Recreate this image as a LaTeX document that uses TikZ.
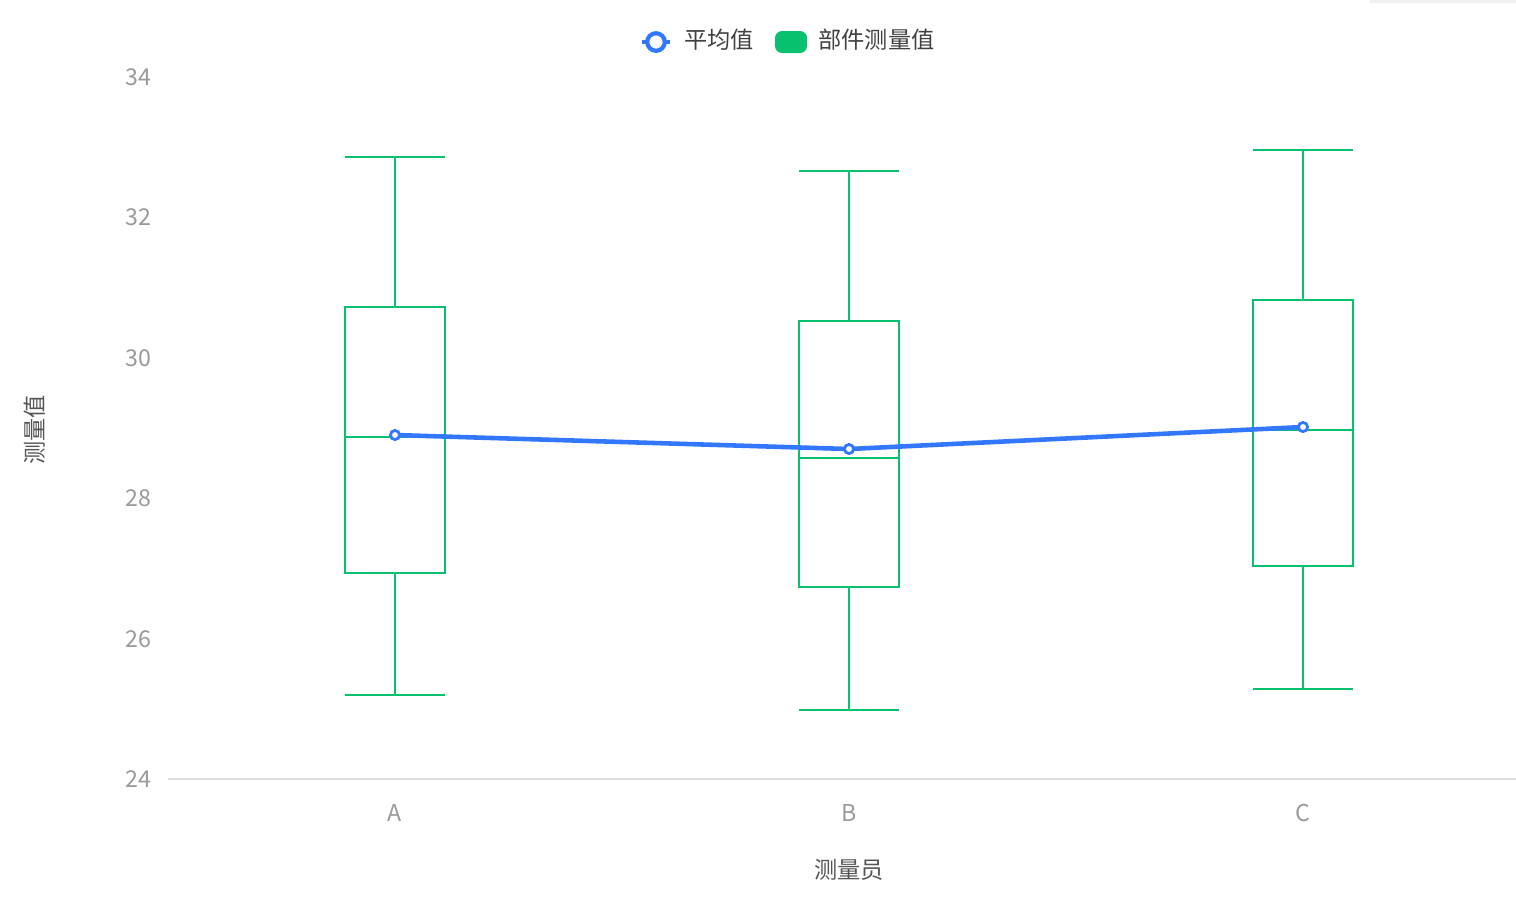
\documentclass[tikz,border=0pt]{standalone}
\usepackage{fontspec}
\setmainfont{Noto Sans CJK SC}
\usetikzlibrary{positioning}
\definecolor{boxgreen}{HTML}{07C16E}
\definecolor{meanblue}{HTML}{3377FF}
\definecolor{ticklabel}{HTML}{9A9A9A}
\definecolor{axisgray}{HTML}{DDDDDD}
\definecolor{titlegray}{HTML}{555555}
\begin{document}
\begin{tikzpicture}[
            x=0.01cm, y=-0.01cm,
            box/.style={draw=boxgreen, line width=0.5pt},
            tick/.style={text=ticklabel, font=\fontsize{6.6pt}{7pt}\selectfont},
            title/.style={text=titlegray, font=\fontsize{6.6pt}{7pt}\selectfont},
            mean/.style={circle, draw=meanblue, fill=white, line width=0.8pt, inner sep=0pt, minimum size=2.6pt}
        ]
        \useasboundingbox (0,0) rectangle (1516,899);
        \fill[black!6] (1370,0) rectangle (1516,3);
        % legend
        \coordinate (l1) at (642,42);
        \coordinate (l2) at (670,42);
        \draw[meanblue, line width=1.2pt] (l1) -- (l2);
        \node[mean, minimum size=5pt, line width=1.2pt] (lmean) at (656,42) {};
        \node[title, anchor=west, text=black!75] (lmeantext) at (672,40) {平均值};
        \fill[boxgreen, rounded corners=2pt] (775,31) rectangle (807,53);
        \node[title, anchor=west, text=black!75] (lboxtext) at (806,40) {部件测量值};
        % axes
        \coordinate (x0) at (168,779);
        \coordinate (x1) at (1516,779);
        \draw[axisgray, line width=0.6pt] (x0) -- (x1);
        \foreach \v/\y in {24/779,26/639,28/498,30/358,32/217,34/77}
            \node[tick, anchor=east] (t\v) at (164,\y) {\v};
        \node[title, rotate=90] (ytitle) at (35,430) {测量值};
        \node[title] (xtitle) at (849,870) {测量员};
        % boxes: name/center/whisker top/q3/median/q1/whisker bottom/mean
        \foreach \n/\c/\wt/\qt/\md/\qb/\wb/\m in {A/395/157/307/437/573/695/435,
                                                B/849/171/321/458/587/710/449,
                                                C/1303/150/300/430/566/689/427}{
            \draw[box] (\c-50,\qt) rectangle (\c+50,\qb);
            \draw[box] (\c-50,\md) -- (\c+50,\md);
            \draw[box] (\c,\wt) -- (\c,\qt) (\c,\qb) -- (\c,\wb);
            \draw[box] (\c-50,\wt) -- (\c+50,\wt) (\c-50,\wb) -- (\c+50,\wb);
            \coordinate (m\n) at (\c,\m);
            \node[tick] (lab\n) at (\c,813) {\n};
        }
        \draw[meanblue, line width=1.3pt] (mA) -- (mB) -- (mC);
        \foreach \n in {A,B,C}
            \node[mean] (dot\n) at (m\n) {};
        \end{tikzpicture}
\end{document}
